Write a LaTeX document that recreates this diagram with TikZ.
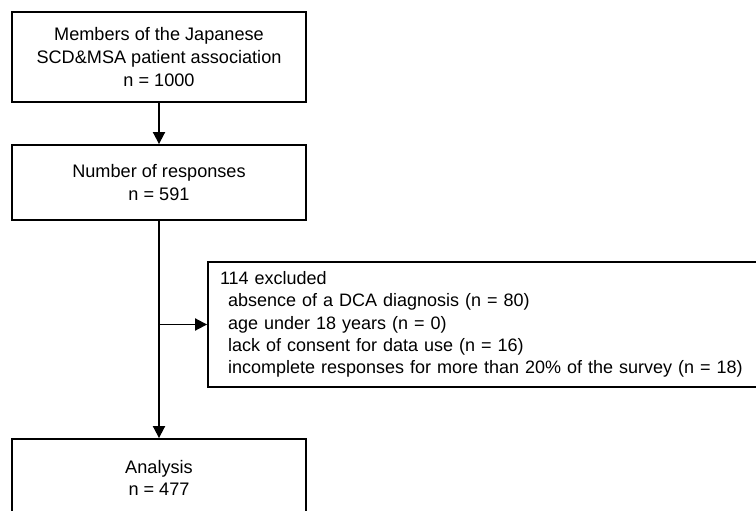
\documentclass[tikz,border=0pt]{standalone}
\usepackage{fontspec}
\setmainfont{Liberation Sans}
\usepackage{tikz}
\usetikzlibrary{arrows.meta, positioning, calc}

\begin{document}
\begin{tikzpicture}[
    x=0.75pt, y=-0.75pt,
    >={Triangle[length=9pt, width=9pt]},
    flowbox/.style={draw, line width=1.4pt, minimum width=294*0.75pt, align=center, font=\fontsize{13.6}{16.9}\selectfont, inner sep=0pt},
    exclbox/.style={draw, line width=1.4pt, minimum width=543*0.75pt, minimum height=125*0.75pt, text width=525*0.75pt, align=left, font=\fontsize{13.5}{16.8}\selectfont, inner xsep=9pt},
    link/.style={line width=1.4pt},
]
    \useasboundingbox (0,0) rectangle (756,510);
    \clip (0,0) rectangle (756,510);

    \node[flowbox, minimum height=90*0.75pt] (members) at (159,57) {
        Members of the Japanese\\
        SCD\&MSA patient association\\
        n = 1000
    };
    \node[flowbox, minimum height=75*0.75pt] (responses) at (159,182.5) {
        Number of responses\\
        n = 591
    };
    \node[exclbox] (excluded) at (482.5,324.5) {
        114 excluded\\
        \hspace{6pt}absence of a DCA diagnosis (n = 80)\\
        \hspace{6pt}age under 18 years (n = 0)\\
        \hspace{6pt}lack of consent for data use (n = 16)\\
        \hspace{6pt}incomplete responses for more than 20\% of the survey (n = 18)
    };
    \node[flowbox, minimum height=78*0.75pt] (analysis) at (159,478) {
        Analysis\\
        n = 477
    };

    % connectors
    \draw[link, ->] (members) -- (responses);
    \draw[link, ->] (responses) -- (analysis);
    \draw[link, ->] (responses.south |- excluded.west) -- (excluded.west);
\end{tikzpicture}
\end{document}
